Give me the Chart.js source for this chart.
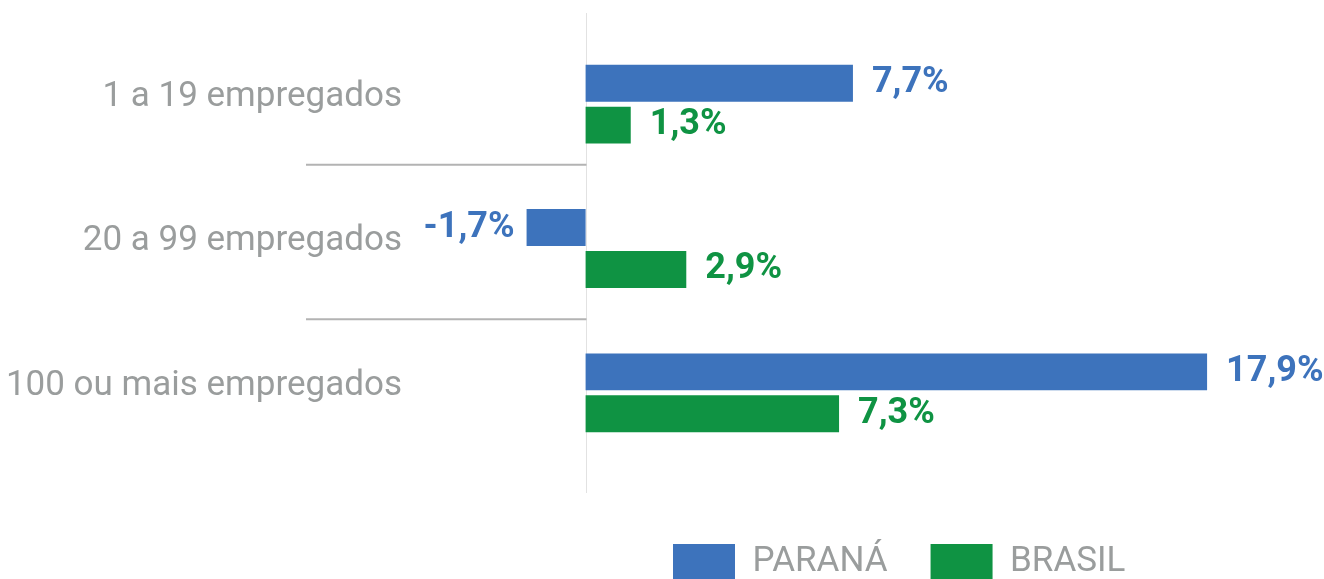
<!DOCTYPE html>
<html>
<head>
<meta charset="utf-8">
<script src="https://cdn.jsdelivr.net/npm/chart.js@4"></script>
<style>
    body { margin: 0; background: #fff; }
    #wrap { width: 1324px; height: 579px; position: relative; }
</style>
</head>
<body>
<div id="wrap"><canvas id="porteChart"></canvas></div>
<script>
var categorias = ['1 a 19 empregados', '20 a 99 empregados', '100 ou mais empregados'];
var parana = [7.7, -1.7, 17.9];
var brasil = [1.3, 2.9, 7.3];
var nomesSeries = ['PARANÁ', 'BRASIL'];
var separadores = [0.42, 1.49]; // between categories

var azul = '#3d73bc';
var verde = '#0f9343';
var cinza = '#9a9d9d';

// zero line and category separators
var linhasPlugin = {
    id: 'linhas',
    beforeDatasetsDraw: function (chart) {
        var ctx = chart.ctx;
        var area = chart.chartArea;
        var x0 = Math.round(chart.scales.x.getPixelForValue(0)) + 0.5;
        ctx.save();
        ctx.strokeStyle = '#e2e2e2';
        ctx.lineWidth = 1;
        ctx.beginPath();
        ctx.moveTo(x0, area.top - 19);
        ctx.lineTo(x0, area.bottom + 28);
        ctx.stroke();
        ctx.strokeStyle = '#b3b3b3';
        ctx.lineWidth = 2;
        separadores.forEach(function (s) {
            var y = chart.scales.y.getPixelForValue(s);
            ctx.beginPath();
            ctx.moveTo(area.left - 106, y);
            ctx.lineTo(x0, y);
            ctx.stroke();
        });
        ctx.restore();
    }
};

// value labels next to each bar
var rotulosPlugin = {
    id: 'rotulos',
    afterDatasetsDraw: function (chart) {
        var ctx = chart.ctx;
        ctx.save();
        ctx.font = 'bold 36px Roboto';
        ctx.textBaseline = 'middle';
        chart.data.datasets.forEach(function (ds, i) {
            var meta = chart.getDatasetMeta(i);
            meta.data.forEach(function (bar, j) {
                var v = ds.data[j];
                var txt = v.toFixed(1).replace('.', ',') + '%';
                ctx.fillStyle = ds.backgroundColor;
                if (v >= 0) {
                    ctx.textAlign = 'left';
                    ctx.fillText(txt, bar.x + 19, bar.y);
                } else {
                    ctx.textAlign = 'right';
                    ctx.fillText(txt, bar.x - 12, bar.y);
                }
            });
        });
        ctx.restore();
    }
};

// move the legend to where it sits in the original
var legendaPlugin = {
    id: 'legendaPos',
    afterLayout: function (chart) {
        var lg = chart.legend;
        var pad = lg.options.labels.padding;
        var dx = 673 - pad - lg.left;
        var dy = 544 - pad - lg.top;
        lg.left += dx; lg.right += dx;
        lg.top += dy; lg.bottom += dy;
    }
};

var ctx = document.getElementById('porteChart').getContext('2d');
var chart = new Chart(ctx, {
    type: 'bar',
    data: {
        labels: categorias,
        datasets: [{
            label: nomesSeries[0],
            data: parana,
            backgroundColor: azul,
            borderWidth: 0
        }, {
            label: nomesSeries[1],
            data: brasil,
            backgroundColor: verde,
            borderWidth: 0
        }]
    },
    options: {
        indexAxis: 'y',
        responsive: true,
        maintainAspectRatio: false,
        animation: false,
        categoryPercentage: 0.581,
        barPercentage: 0.88,
        layout: {
            padding: { top: 32, right: 44, left: 0, bottom: 25 }
        },
        scales: {
            x: {
                display: false,
                min: -5,
                max: 20
            },
            y: {
                grid: { display: false },
                border: { display: false },
                ticks: {
                    color: cinza,
                    padding: 2,
                    labelOffset: -7,
                    font: { family: 'Roboto', size: 35 }
                },
                afterFit: function (scale) {
                    scale.width = 412;
                }
            }
        },
        plugins: {
            tooltip: { enabled: false },
            legend: {
                position: 'bottom',
                align: 'start',
                labels: {
                    boxWidth: 62,
                    boxHeight: 36,
                    padding: 43,
                    color: cinza,
                    font: { family: 'Roboto', size: 35 }
                }
            }
        }
    },
    plugins: [linhasPlugin, rotulosPlugin, legendaPlugin]
});
</script>
</body>
</html>
